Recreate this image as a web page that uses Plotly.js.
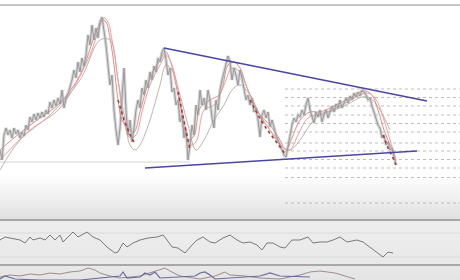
<!DOCTYPE html>
<html>
<head>
<meta charset="utf-8">
<script src="https://cdn.plot.ly/plotly-3.0.1.min.js"></script>
<style>
  html, body { margin: 0; padding: 0; background: #ffffff; }
  #chart {
    width: 460px; height: 280px;
    background: linear-gradient(to bottom,
      #ffffff 0px, #ffffff 176px, #e0e0e0 219px,
      #eeeeee 219px, #e8e8e8 265px,
      #e9e9e9 265px, #e4e4e4 280px);
  }
</style>
</head>
<body>
<div id="chart"></div>
<script>
// ---- price (one close every 2 days) ----
const priceStep = 2;
const close = [
  50,40,65,72,65,70,62,72,66,70,
  62,68,64,75,70,83,78,86,80,87,
  82,88,83,90,86,98,92,100,94,102,
  96,110,92,102,106,112,120,130,122,138,
  128,142,134,145,165,155,175,160,172,162,
  178,183,170,155,135,115,125,90,70,55,
  72,100,132,90,65,80,58,72,90,100,
  92,112,105,120,112,128,120,134,128,142,
  138,148,152,140,125,132,108,112,95,100,
  78,85,62,70,40,55,75,65,95,85,
  110,95,102,90,110,100,82,72,100,90,
  110,120,128,134,144,138,120,132,125,115,
  130,122,110,100,105,95,102,88,92,80,
  63,85,90,82,88,73,80,72,65,60,
  55,50,45,43,55,63,75,82,78,85,
  83,90,85,95,102,90,82,77,88,83,
  90,78,85,90,82,88,94,88,96,92,
  100,92,98,102,97,104,100,107,103,108,
  104,110,108,105,100,102,94,88,82,75,
  72,62,65,55,58,50,52,42,
  35
];
const closeDays = close.map((_, i) => i * priceStep);

// ---- moving averages ----
const maFastDays = [0,20,40,60,80,95,102,106,110,114,118,122,128,134,140,150,160,166,170,176,182,188,194,200,210,220,228,234,240,246,252,260,270,280,286,292,300,310,320,330,340,350,360,366,372,378,384,390,394];
const maFast     = [50,67,82,97,125,165,180,178,162,135,100,80,72,68,88,122,140,148,140,115,85,60,64,92,100,106,135,138,132,115,100,85,75,60,50,62,80,88,88,92,97,102,108,109,105,90,70,55,45];

const maSlowDays = [0,30,60,90,100,104,108,112,116,120,124,130,136,142,150,160,166,172,178,184,190,196,204,214,224,232,240,248,256,264,274,284,290,298,308,320,332,344,356,366,372,378,384,390,396];
const maSlow     = [40,70,92,145,175,182,178,160,135,105,78,62,65,88,115,135,145,135,110,80,55,58,90,95,115,132,128,110,92,78,65,52,50,65,82,86,90,96,103,107,105,97,80,60,40];

const maLongDays = [0,20,50,80,100,110,118,125,130,135,140,150,160,166,172,180,188,196,204,214,224,232,240,250,260,270,280,290,300,310,320,335,350,362,370,380,390];
const maLong     = [30,60,85,120,160,160,120,80,55,50,55,80,115,135,130,105,75,50,60,80,95,110,115,105,85,70,55,50,60,75,85,90,97,103,102,90,70];

const stopDays = [118,124,130,134,null,178,183,188,190,null,250,258,266,275,282,286,null,383,388,393,396];
const stopVals = [100,80,65,58,null,108,85,60,50,null,100,85,72,60,50,45,null,65,52,42,35];

// ---- trendlines ----
const upperDays = [164, 427];
const upperVals = [152, 99];
const lowerDays = [145, 417];
const lowerVals = [32, 49];

// ---- horizontal levels ----
const levelStart = 285, levelEnd = 460;
const levels = [111, 102.5, 94, 85, 76.5, 68, 57, 49, 40.5, 32, 22.5, -3];
const baseLevel = 38, baseStart = 0, baseEnd = 190;

// ---- oscillator ----
const oscDays = [0,5,10,20,25,30,33,40,45,50,55,60,63,73,78,87,93,100,107,115,118,123,127,133,140,148,157,163,167,172,178,185,192,197,203,210,215,223,230,237,243,250,257,262,267,273,280,285,292,300,308,313,320,327,333,340,347,357,363,370,377,383,388,393];
const osc     = [24,27,26,24,21,27,24,26,24,29,24,29,22,32,27,32,27,24,17,11,12,21,17,21,24,26,27,29,24,17,16,11,19,24,27,22,21,26,29,24,21,22,19,14,21,21,17,16,24,24,27,21,22,22,24,27,22,24,22,17,12,7,12,11];
const oscLevels = [31, 7];

// ---- lower indicator ----
const indADays = [0,10,20,30,40,50,60,70,80,88,95,100,110,120,140,150,160,165,170,180,200,215,225,230,245,260,280,300,310,320,335,345,355];
const indA     = [3,5,4,6,5,7,6,8,9,12,10,7,4,2,4,7,10,12,9,4,1,4,8,5,4,2,1,5,8,9,7,4,1];
const indBDays = [0,5,15,40,80,120,123,127,140,145,150,155,160,195,200,205,210,215,260,270,280,310];
const indB     = [1,4,1,0,0,4,8,2,3,7,5,8,2,4,7,8,5,1,4,7,4,3];

// ---- build traces ----
const traces = [];
const lvX = [], lvY = [];
levels.forEach(v => { lvX.push(levelStart, levelEnd, null); lvY.push(v, v, null); });
traces.push({x: lvX, y: lvY, mode: 'lines', line: {color: '#bdbdbd', width: 1, dash: 'dot'}, yaxis: 'y'});
traces.push({x: [baseStart, baseEnd], y: [baseLevel, baseLevel], mode: 'lines', line: {color: '#d4d4d4', width: 1}, yaxis: 'y'});
traces.push({x: maLongDays, y: maLong, mode: 'lines', line: {color: '#bdb5ae', width: 1, shape: 'spline'}, yaxis: 'y'});
traces.push({x: maFastDays, y: maFast, mode: 'lines', line: {color: '#e48c8c', width: 1, shape: 'spline'}, yaxis: 'y'});
traces.push({x: maSlowDays, y: maSlow, mode: 'lines', line: {color: '#e8a0a0', width: 1, shape: 'spline'}, yaxis: 'y'});
traces.push({x: closeDays, y: close, mode: 'lines', line: {color: 'rgba(172,172,172,0.5)', width: 3.2}, yaxis: 'y'});
traces.push({x: closeDays, y: close, mode: 'lines', line: {color: '#999999', width: 1}, yaxis: 'y'});
traces.push({x: stopDays, y: stopVals, mode: 'lines', line: {color: '#b03434', width: 1.6, dash: 'dot'}, yaxis: 'y'});
traces.push({x: upperDays, y: upperVals, mode: 'lines', line: {color: '#4848a2', width: 1.6}, yaxis: 'y'});
traces.push({x: lowerDays, y: lowerVals, mode: 'lines', line: {color: '#4848a2', width: 1.6}, yaxis: 'y'});

const olX = [], olY = [];
oscLevels.forEach(v => { olX.push(0, 460, null); olY.push(v, v, null); });
traces.push({x: olX, y: olY, mode: 'lines', line: {color: '#dadada', width: 1}, yaxis: 'y2'});
traces.push({x: oscDays, y: osc, mode: 'lines', line: {color: '#7a7a7a', width: 1}, yaxis: 'y2'});

traces.push({x: indADays, y: indA, mode: 'lines', line: {color: '#a08c8c', width: 1}, yaxis: 'y3'});
traces.push({x: indBDays, y: indB, mode: 'lines', line: {color: '#6c6c9c', width: 1.2}, yaxis: 'y3'});

const ax = {visible: false, showgrid: false, zeroline: false, fixedrange: true};
const layout = {
  width: 460, height: 280,
  margin: {l: 0, r: 0, t: 0, b: 0},
  paper_bgcolor: 'rgba(0,0,0,0)',
  plot_bgcolor: 'rgba(0,0,0,0)',
  showlegend: false,
  xaxis: Object.assign({}, ax, {range: [0, 460], domain: [0, 1]}),
  yaxis: Object.assign({}, ax, {range: [-20, 195], domain: [0.2143, 0.9821]}),
  yaxis2: Object.assign({}, ax, {range: [0, 43], domain: [0.0571, 0.2107], anchor: 'x'}),
  yaxis3: Object.assign({}, ax, {range: [0, 14], domain: [0, 0.05], anchor: 'x'}),
  shapes: [
    {type: 'line', xref: 'paper', yref: 'paper', x0: 0, x1: 1, y0: 0.9821, y1: 0.9821, line: {color: '#c6c6c6', width: 2}},
    {type: 'line', xref: 'paper', yref: 'paper', x0: 0, x1: 1, y0: 0.2143, y1: 0.2143, line: {color: '#a8a8a8', width: 2}},
    {type: 'line', xref: 'paper', yref: 'paper', x0: 0, x1: 1, y0: 0.0536, y1: 0.0536, line: {color: '#a8a8a8', width: 2}}
  ]
};
Plotly.newPlot('chart', traces, layout, {staticPlot: true, displayModeBar: false});
</script>
</body>
</html>
